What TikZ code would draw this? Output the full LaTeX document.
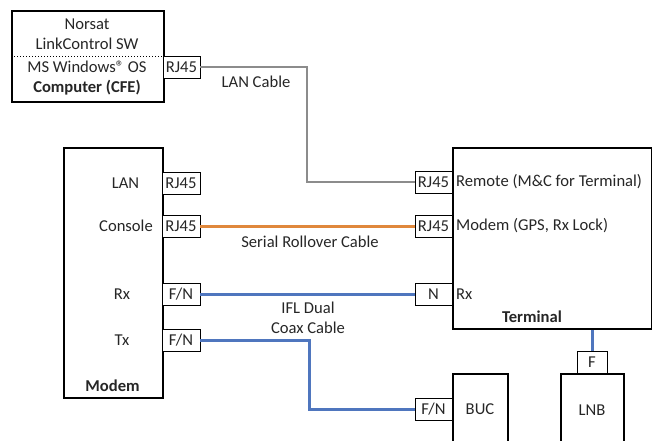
\documentclass[tikz,border=0pt]{standalone}
\usepackage{fontspec}
\setmainfont{Carlito}
\begin{document}
\begin{tikzpicture}[x=1pt,y=-1pt,
  every node/.style={font=\fontsize{16.6}{19}\selectfont, text=black!85},
  mainbox/.style={draw=black, line width=2pt, anchor=north west, inner sep=0pt},
  port/.style={draw=black, line width=0.9pt, minimum width=38pt, minimum height=22pt, inner sep=0pt, fill=white},
  lbl/.style={inner sep=0pt},
  bold/.style={font=\fontsize{16.6}{19}\selectfont\bfseries},
  lancable/.style={draw=black!45, line width=2pt},
  coaxcable/.style={draw=coaxblue, line width=3pt}]
\definecolor{coaxblue}{HTML}{4F76BE}
\definecolor{serialorange}{HTML}{E0883C}
\tikzset{serialcable/.style={draw=serialorange, line width=3pt}}
\path[use as bounding box, clip] (0,0) rectangle (652,440);

% main boxes
\node[mainbox, minimum width=152pt, minimum height=91pt] (cfe) at (11,10) {};
\node[mainbox, minimum width=99pt, minimum height=250pt] (modem) at (63,147) {};
\node[mainbox, minimum width=199pt, minimum height=181pt] (term) at (452,147) {};
\node[mainbox, minimum width=55pt, minimum height=80pt] (buc) at (452,373) {};
\node[mainbox, minimum width=63pt, minimum height=80pt] (lnb) at (560,373) {};

% computer contents
\coordinate (dotl) at (11,56);
\coordinate (dotr) at (163,56);
\draw[dotted, line width=1pt] (dotl) -- (dotr);
\node[lbl] (t1) at (87,24) {Norsat};
\node[lbl] (t2) at (87,44) {LinkControl SW};
\node[lbl] (t3) at (87,67) {MS Windows® OS};
\node[lbl, bold] (t4) at (87,88) {Computer (CFE)};

% ports
\node[port, minimum width=37pt] (cferj) at (181.5,67) {RJ45};
\node[port] (mrj1) at (181,183) {RJ45};
\node[port] (mrj2) at (181,226) {RJ45};
\node[port] (mrx) at (181,294) {F/N};
\node[port] (mtx) at (181,340) {F/N};
\node[port, minimum width=37pt] (trj1) at (433.5,182) {RJ45};
\node[port, minimum width=37pt] (trj2) at (433.5,226) {RJ45};
\node[port, minimum width=37pt] (tn) at (433.5,294) {N};
\node[port, minimum width=37pt] (bucfn) at (433.5,409) {F/N};
\node[port, minimum width=30pt] (lnbf) at (592,362) {F};

% modem labels
\node[lbl] (mlan) at (125.5,183) {LAN};
\node[lbl] (mcon) at (126,226) {Console};
\node[lbl] (mrxl) at (122,294) {Rx};
\node[lbl] (mtxl) at (122,340) {Tx};
\node[lbl, bold] (mname) at (112.5,386) {Modem};

% terminal labels
\node[lbl, anchor=west] (trem) at (456,182) {Remote (M\&C for Terminal)};
\node[lbl, anchor=west] (tmod) at (456,226) {Modem (GPS, Rx Lock)};
\node[lbl, anchor=west] (trx) at (456,294) {Rx};
\node[lbl, bold] (tname) at (532,317) {Terminal};

\node[lbl] (bucl) at (480,409) {BUC};
\node[lbl] (lnbl) at (592,410) {LNB};

% cable labels
\node[lbl] (lanl) at (256,82) {LAN Cable};
\node[lbl] (serl) at (310,242) {Serial Rollover Cable};
\node[lbl] (ifl1) at (308,308) {IFL Dual};
\node[lbl] (ifl2) at (308,328) {Coax Cable};

% cables
\coordinate (lanbend) at (307,182);
\draw[lancable] (cferj.east) -| (lanbend) -- (trj1.west);
\draw[serialcable] (mrj2.east) -- (trj2.west);
\draw[coaxcable] (mrx.east) -- (tn.west);
\coordinate (txbend) at (309,409);
\draw[coaxcable] (mtx.east) -| (txbend) -- (bucfn.west);
\draw[coaxcable] (lnbf.north) -- (lnbf.north |- term.south);
\end{tikzpicture}
\end{document}
